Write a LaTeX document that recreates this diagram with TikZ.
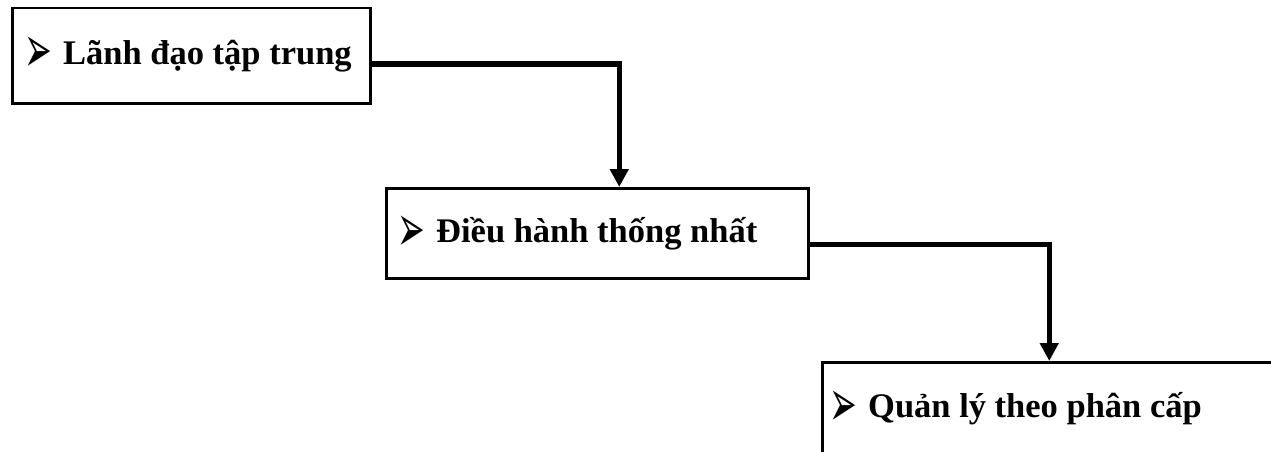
\documentclass[tikz,border=0pt]{standalone}
\usepackage{fontspec}
\setmainfont{Liberation Serif}
\newfontfamily\arrowfont{DejaVu Sans}
\usepackage{tikz}
\usetikzlibrary{arrows.meta}

\newcommand{\pointer}{\makebox[36pt][l]{\hspace{-3pt}\raisebox{-9pt}{\scalebox{0.72}[1.45]{\fontsize{46}{46}\arrowfont ➢}}}}

\begin{document}
\begin{tikzpicture}[x=1pt,y=-1pt,
  box/.style={draw, line width=2.5pt, anchor=north west, inner sep=0pt},
  lbl/.style={anchor=base west, inner sep=0pt, font=\fontsize{34.5}{42}\selectfont\bfseries},
  conn/.style={line width=5.5pt, -{Triangle[width=18pt,length=18pt]}}]
\useasboundingbox (0,0) rectangle (1271,452);
\clip (0,0) rectangle (1271,452);
\node[box, minimum width=358pt, minimum height=95pt] (lanhdao) at (11,7) {};
\node[box, minimum width=422pt, minimum height=90pt] (dieuhanh) at (385,187) {};
\node[box, minimum width=454pt, minimum height=100pt] (quanly) at (821,361) {};
\node[lbl] (lanhdaotxt) at (27,64) {\pointer Lãnh đạo tập trung};
\node[lbl] (dieuhanhtxt) at (400,242) {\pointer Điều hành thống nhất};
\node[lbl] (quanlytxt) at (832,417) {\pointer Quản lý theo phân cấp};
\draw[conn] ([yshift=-8.5pt]lanhdao.east) -| ([xshift=22pt]dieuhanh.north);
\draw[conn] ([yshift=-11pt]dieuhanh.east) -| (quanly.north);
\end{tikzpicture}
\end{document}
